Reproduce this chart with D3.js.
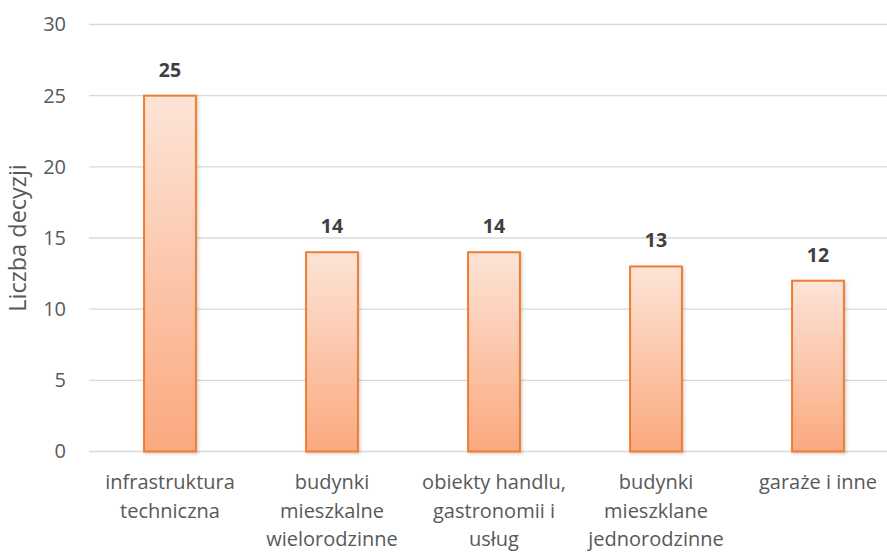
<!DOCTYPE html>
<html>
<head>
<meta charset="utf-8">
<script src="https://cdn.jsdelivr.net/npm/d3@7"></script>
<style>
  body { margin: 0; background: #fff; }
  text { font-family: "Open Sans", "Noto Sans", sans-serif; }
</style>
</head>
<body>
<div id="chart"></div>
<script>
// Decyzje wg rodzaju obiektu
const categories = [
    ["infrastruktura", "techniczna"],
    ["budynki", "mieszkalne", "wielorodzinne"],
    ["obiekty handlu,", "gastronomii i", "usług"],
    ["budynki", "mieszklane", "jednorodzinne"],
    ["garaże i inne"]
];
const values = [25, 14, 14, 13, 12];
const yTicks = [0, 5, 10, 15, 20, 25, 30];

const W = 887, H = 553;
const margin = {top: 24.5, left: 89, bottom: H - 451.5};
const plotRight = 899;

const svg = d3.select("#chart").append("svg")
    .attr("width", W)
    .attr("height", H);

const defs = svg.append("defs");
const grad = defs.append("linearGradient")
    .attr("id", "barGrad")
    .attr("x1", 0).attr("y1", 0).attr("x2", 0).attr("y2", 1);
grad.append("stop").attr("offset", "0%").attr("stop-color", "#fde4d7");
grad.append("stop").attr("offset", "100%").attr("stop-color", "#fba97f");

const filter = defs.append("filter").attr("id", "shadow")
    .attr("x", "-20%").attr("y", "-5%").attr("width", "140%").attr("height", "115%");
filter.append("feDropShadow")
    .attr("dx", 1.5).attr("dy", 1.5).attr("stdDeviation", 1.5)
    .attr("flood-color", "#000").attr("flood-opacity", 0.18);

const x = d3.scaleBand()
    .domain(d3.range(values.length))
    .range([margin.left, plotRight])
    .paddingInner(0.68)
    .paddingOuter(0.34);

const y = d3.scaleLinear()
    .domain([0, 30])
    .range([H - margin.bottom, margin.top]);

// gridlines
svg.append("g")
    .selectAll("line")
    .data(yTicks)
    .join("line")
    .attr("x1", margin.left)
    .attr("x2", plotRight)
    .attr("y1", d => y(d))
    .attr("y2", d => y(d))
    .attr("stroke", "#d9d9d9")
    .attr("stroke-width", 1.3);

// y tick labels
const yAxis = svg.append("g")
    .attr("transform", `translate(${margin.left},0)`)
    .call(d3.axisLeft(y).tickValues(yTicks).tickSize(0).tickPadding(23));
yAxis.select(".domain").remove();
yAxis.selectAll("text")
    .attr("fill", "#595959")
    .style("font-size", "20px")
    .style("font-family", "'Open Sans', sans-serif");

// y title
svg.append("text")
    .attr("transform", `translate(26,${(y(0) + y(30)) / 2}) rotate(-90)`)
    .attr("text-anchor", "middle")
    .attr("fill", "#595959")
    .style("font-size", "23.5px")
    .text("Liczba decyzji");

// bars
svg.append("g")
    .selectAll("rect")
    .data(values)
    .join("rect")
    .attr("x", (d, i) => x(i))
    .attr("y", d => y(d))
    .attr("width", x.bandwidth())
    .attr("height", d => y(0) - y(d))
    .attr("fill", "url(#barGrad)")
    .attr("stroke", "#ed7d31")
    .attr("stroke-width", 2)
    .attr("filter", "url(#shadow)");

// value labels
svg.append("g")
    .selectAll("text")
    .data(values)
    .join("text")
    .attr("x", (d, i) => x(i) + x.bandwidth() / 2)
    .attr("y", d => y(d) - 19)
    .attr("text-anchor", "middle")
    .attr("fill", "#404040")
    .style("font-size", "19.5px")
    .style("font-weight", "bold")
    .text(d => d);

// category labels
const cat = svg.append("g")
    .selectAll("text")
    .data(categories)
    .join("text")
    .attr("text-anchor", "middle")
    .attr("fill", "#595959")
    .style("font-size", "20px")
    .attr("x", (d, i) => x(i) + x.bandwidth() / 2)
    .attr("y", 489);
cat.selectAll("tspan")
    .data(d => d)
    .join("tspan")
    .attr("x", function() { return this.parentNode.getAttribute("x"); })
    .attr("dy", (d, i) => i === 0 ? 0 : 28.5)
    .text(d => d);
</script>
</body>
</html>
